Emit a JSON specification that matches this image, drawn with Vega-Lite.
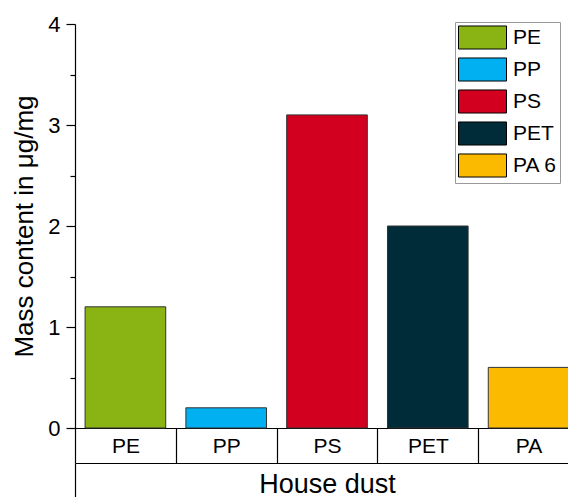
{
  "$schema": "https://vega.github.io/schema/vega-lite/v6.json",
  "width": 504,
  "height": 404,
  "autosize": {"type": "none"},
  "padding": {"left": 75, "top": 24, "right": 0, "bottom": 69},
  "background": "white",
  "config": {
    "view": {"stroke": null},
    "font": "Liberation Sans",
    "axis": {
      "domainColor": "black",
      "tickColor": "black",
      "labelColor": "black",
      "titleColor": "black",
      "grid": false,
      "labelFont": "Liberation Sans",
      "titleFont": "Liberation Sans",
      "titleFontWeight": "normal",
      "domainWidth": 1.2,
      "tickWidth": 1.2
    },
    "legend": {"labelFont": "Liberation Sans"}
  },
  "data": {
    "values": [
      {"label": "PE", "polymer": "PE", "mass": 1.2},
      {"label": "PP", "polymer": "PP", "mass": 0.2},
      {"label": "PS", "polymer": "PS", "mass": 3.1},
      {"label": "PET", "polymer": "PET", "mass": 2.0},
      {"label": "PA", "polymer": "PA 6", "mass": 0.6}
    ]
  },
  "layer": [
    {
      "mark": {"type": "bar", "width": {"band": 0.8}, "stroke": "#333333", "strokeWidth": 1},
      "encoding": {
        "x": {
          "field": "label",
          "type": "nominal",
          "sort": null,
          "scale": {"paddingInner": 0, "paddingOuter": 0},
          "axis": {
            "title": null,
            "labelAngle": 0,
            "labelFontSize": 21,
            "tickBand": "extent",
            "tickSize": 35,
            "labelPadding": -28
          }
        },
        "y": {
          "field": "mass",
          "type": "quantitative",
          "scale": {"domain": [0, 4], "nice": false},
          "axis": {
            "title": "Mass content in μg/mg",
            "titleFontSize": 26,
            "titlePadding": 10,
            "values": [0, 0.5, 1, 1.5, 2, 2.5, 3, 3.5, 4],
            "format": "~g",
            "labelExpr": "datum.value % 1 === 0 ? datum.label : ''",
            "tickSize": {"condition": {"test": "datum.value % 1 !== 0", "value": 5}, "value": 9},
            "labelFontSize": 22,
            "labelPadding": 6
          }
        },
        "color": {
          "field": "polymer",
          "type": "nominal",
          "sort": null,
          "scale": {
            "domain": ["PE", "PP", "PS", "PET", "PA 6"],
            "range": ["#8AB414", "#00B0F0", "#D2001E", "#002B38", "#FBBA00"]
          },
          "legend": {
            "title": null,
            "orient": "none",
            "legendX": 380,
            "legendY": -2,
            "symbolType": "M-1,-0.96H3V0.96H-1Z",
            "symbolSize": 576,
            "symbolStrokeColor": "black",
            "symbolStrokeWidth": 1,
            "symbolOpacity": 1,
            "labelFontSize": 21,
            "labelColor": "black",
            "labelOffset": 30,
            "rowPadding": 3,
            "padding": 3,
            "strokeColor": "#999999",
            "fillColor": "white"
          }
        }
      }
    },
    {
      "mark": {"type": "bar", "opacity": 0, "width": {"band": 0.8}},
      "encoding": {
        "x": {
          "field": "label",
          "type": "nominal",
          "sort": null,
          "axis": {
            "orient": "bottom",
            "offset": 35,
            "values": ["PE"],
            "bandPosition": 0,
            "tickSize": 35,
            "labels": false,
            "title": "House dust",
            "titleFontSize": 27,
            "titlePadding": -27
          }
        },
        "y": {"field": "mass", "type": "quantitative"}
      }
    }
  ],
  "resolve": {"axis": {"x": "independent"}}
}
